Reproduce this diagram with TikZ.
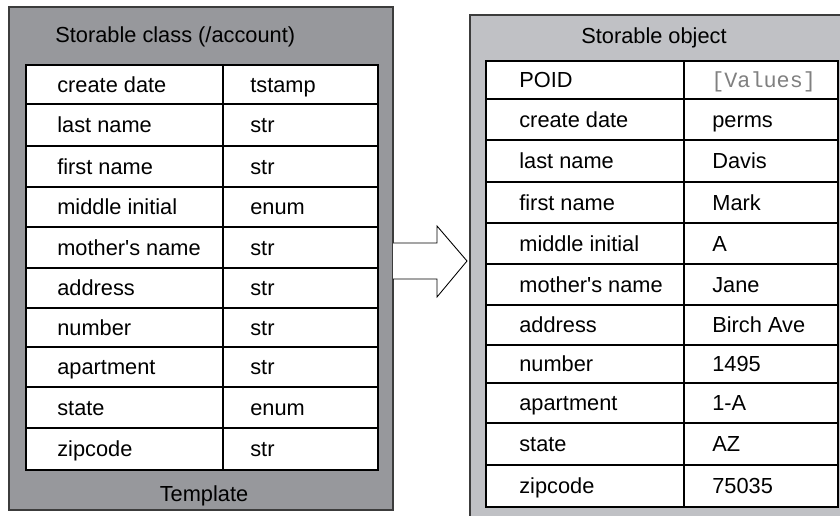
\documentclass[tikz,border=0pt]{standalone}
\usepackage{fontspec}
\setmainfont{Liberation Sans}
\setmonofont{Liberation Mono}
\definecolor{classgray}{HTML}{97989C}
\definecolor{objgray}{HTML}{C0C1C5}
\definecolor{rimgray}{HTML}{3C3C3C}
\begin{document}
\begin{tikzpicture}[x=0.02cm, y=-0.02cm, font=\fontsize{12.4}{14}\selectfont]
	\useasboundingbox (0,0) rectangle (840,516);
	\clip (0,0) rectangle (840,516);
	% template (class) panel
	\draw[rimgray, line width=0.8pt, fill=classgray] (9,7) rectangle (393,510);
	\draw[fill=white, line width=0.6pt] (26,65) rectangle (378,470);
	\draw[line width=0.6pt] (223,65) -- (223,470);
	\foreach \y in {104,146,187,227,268,308,347,387,428}
		\draw[line width=0.6pt] (26,\y) -- (378,\y);
	\node[anchor=base west, inner sep=0pt] (clstitle) at (55,43) {Storable class (/account)};
	\node[anchor=base, inner sep=0pt] (clsfoot) at (204,502) {Template};
	\foreach \y/\a/\b [count=\i] in {92.5/create date/tstamp, 133/last name/str,
		174.5/first name/str, 215/middle initial/enum, 255.5/mother\textquotesingle s name/str,
		296/address/str, 335.5/number/str, 375/apartment/str, 415.5/state/enum,
		457/zipcode/str}
	{
		\node[anchor=base west, inner sep=0pt] (ck\i) at (57,\y) {\a};
		\node[anchor=base west, inner sep=0pt] (ct\i) at (250,\y) {\b};
	}
	% hollow arrow
	\fill[white] (393,243) -- (437,243) -- (437,226) -- (467,261) -- (437,297) -- (437,279) -- (393,279) -- cycle;
	\draw[line width=0.5pt, line join=miter] (393,243) -- (437,243) -- (437,226) -- (467,261) -- (437,297) -- (437,279) -- (393,279);
	% object panel
	\draw[rimgray, line width=0.8pt, fill=objgray] (470,15) rectangle (860,540);
	\draw[fill=white, line width=0.6pt] (486,61) rectangle (838,507);
	\draw[line width=0.6pt] (684,61) -- (684,507);
	\foreach \y in {99,140,182,223,264,305,345,383,423,465}
		\draw[line width=0.6pt] (486,\y) -- (838,\y);
	\node[anchor=base, inner sep=0pt] (objtitle) at (654,44) {Storable object};
	\node[anchor=base west, inner sep=0pt] (ok0) at (519,88) {POID};
	\node[anchor=base west, inner sep=0pt, text=gray, font=\ttfamily\fontsize{12.4}{14}\selectfont] (ov0) at (711,88) {[Values]};
	\foreach \y/\a/\b [count=\i] in {127.5/create date/perms, 169/last name/Davis,
		210.5/first name/Mark, 251.5/middle initial/A, 292.5/mother\textquotesingle s name/Jane,
		333/address/Birch Ave, 372/number/1495, 411/apartment/1-A, 452/state/AZ,
		494/zipcode/75035}
	{
		\node[anchor=base west, inner sep=0pt] (ok\i) at (519,\y) {\a};
		\node[anchor=base west, inner sep=0pt] (ov\i) at (712,\y) {\b};
	}
\end{tikzpicture}
\end{document}
